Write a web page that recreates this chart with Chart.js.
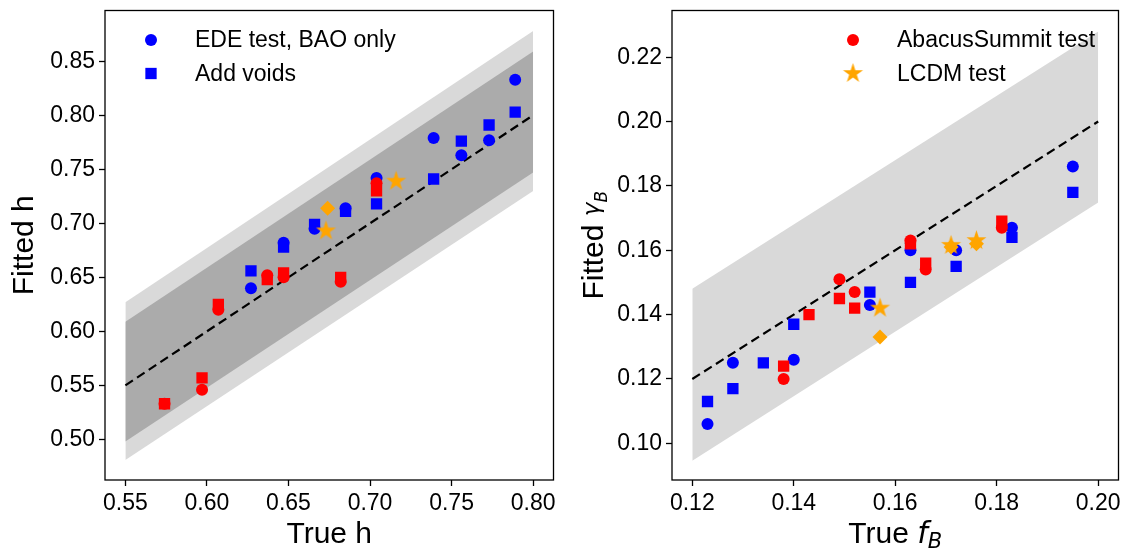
<!DOCTYPE html>
<html>
<head>
<meta charset="utf-8">
<script src="https://cdn.jsdelivr.net/npm/chart.js@4.4.1/dist/chart.umd.min.js"></script>
<style>
  html, body { margin: 0; padding: 0; background: #fff; }
  #wrap { position: relative; width: 1129px; height: 550px; }
  canvas { position: absolute; top: 0; }
</style>
</head>
<body>
<div id="wrap">
  <canvas id="left" width="564" height="550" style="left:0;width:564px;height:550px"></canvas>
  <canvas id="right" width="565" height="550" style="left:564px;width:565px;height:550px"></canvas>
</div>
<script>
// ---- left panel: Hubble parameter ----
const hTicksX = [0.55, 0.60, 0.65, 0.70, 0.75, 0.80];
const hTicksY = [0.50, 0.55, 0.60, 0.65, 0.70, 0.75, 0.80, 0.85];

const edeTrueH = [0.627, 0.647, 0.666, 0.685, 0.704, 0.739, 0.756, 0.773, 0.789];
const edeBaoH  = [0.640, 0.682, 0.695, 0.714, 0.742, 0.779, 0.763, 0.777, 0.833];
const edeVoidH = [0.656, 0.678, 0.699, 0.711, 0.718, 0.741, 0.776, 0.791, 0.803];

const abacusTrueH = [0.574, 0.597, 0.607, 0.637, 0.647, 0.682, 0.704];
const abacusBaoH  = [0.533, 0.546, 0.620, 0.652, 0.650, 0.646, 0.737];
const abacusVoidH = [0.533, 0.557, 0.625, 0.648, 0.654, 0.650, 0.730];

const lcdmStarTrueH = [0.673, 0.716];
const lcdmStarH     = [0.693, 0.739];
const lcdmDiamondTrueH = [0.674];
const lcdmDiamondH     = [0.714];

const hBandX     = [0.55, 0.80];
const hOuterLow  = [0.481, 0.730];
const hOuterHigh = [0.627, 0.878];
const hInnerLow  = [0.498, 0.747];
const hInnerHigh = [0.609, 0.859];
const hDiag      = [0.55, 0.80];

// ---- right panel: baryon fraction ----
const fTicksX = [0.12, 0.14, 0.16, 0.18, 0.20];
const fTicksY = [0.10, 0.12, 0.14, 0.16, 0.18, 0.20, 0.22];

const edeCircTrueF = [0.123, 0.128, 0.140, 0.155, 0.163, 0.172, 0.183, 0.195];
const edeBaoF      = [0.106, 0.125, 0.126, 0.143, 0.160, 0.160, 0.167, 0.186];
const edeSqTrueF   = [0.123, 0.128, 0.134, 0.140, 0.155, 0.163, 0.172, 0.183, 0.195];
const edeVoidF     = [0.113, 0.117, 0.125, 0.137, 0.147, 0.150, 0.155, 0.164, 0.178];

const abacusCircTrueF = [0.138, 0.149, 0.152, 0.163, 0.166, 0.181];
const abacusBaoF      = [0.120, 0.151, 0.147, 0.163, 0.154, 0.167];
const abacusSqTrueF   = [0.138, 0.143, 0.149, 0.152, 0.163, 0.166, 0.181];
const abacusVoidF     = [0.124, 0.140, 0.145, 0.142, 0.162, 0.156, 0.169];

const lcdmStarTrueF    = [0.157, 0.171, 0.176];
const lcdmStarF        = [0.142, 0.1615, 0.163];
const lcdmDiamondTrueF = [0.157, 0.171, 0.176];
const lcdmDiamondF     = [0.133, 0.161, 0.162];

const fBandX    = [0.12, 0.20];
const fBandLow  = [0.0946, 0.1748];
const fBandHigh = [0.148, 0.228];
const fDiag     = [0.12, 0.20];

const BLUE = '#0000ff', RED = '#ff0000', ORANGE = '#ffa500';
const LIGHT = '#d9d9d9', DARK = '#ababab';
const SANS = '"Liberation Sans", Arial, sans-serif';
const MATH = '"DejaVu Sans", sans-serif';

function starImage(r, color) {
  const c = document.createElement('canvas');
  const s = Math.ceil(r * 2 + 2);
  c.width = s; c.height = s;
  const g = c.getContext('2d');
  g.fillStyle = color;
  g.beginPath();
  for (let i = 0; i < 10; i++) {
    const rad = i % 2 ? r * 0.382 : r;
    const ang = -Math.PI / 2 + i * Math.PI / 5;
    g.lineTo(s / 2 + rad * Math.cos(ang), s / 2 + rad * Math.sin(ang));
  }
  g.closePath();
  g.fill();
  return c;
}
const star = starImage(10.5, ORANGE);

const pts = (xs, ys) => xs.map((x, i) => ({ x, y: ys[i] }));

function markers(label, xs, ys, color, style, radius, order) {
  return {
    type: 'scatter', label, data: pts(xs, ys), order,
    pointStyle: style, pointRadius: radius, pointHoverRadius: radius,
    backgroundColor: color, borderColor: color, borderWidth: 0
  };
}
function band(xs, ys, fill, color, order) {
  return {
    type: 'line', data: pts(xs, ys), fill, order,
    backgroundColor: color, borderColor: 'transparent', borderWidth: 0,
    pointRadius: 0, tension: 0
  };
}
function diag(xs, order) {
  return {
    type: 'line', data: pts(xs, xs), fill: false, order,
    borderColor: '#000', borderWidth: 2.2, borderDash: [9, 5], pointRadius: 0
  };
}

function scale(min, max, ticks, fit, isX) {
  return {
    type: 'linear', min, max,
    afterBuildTicks: s => { s.ticks = ticks.map(v => ({ value: v })); },
    afterFit: s => {
      if (isX) s.height = fit; else s.width = fit;
      // frame is fixed by layout padding, not by label overhang
      s.paddingTop = s.paddingBottom = s.paddingLeft = s.paddingRight = 0;
    },
    grid: { drawOnChartArea: false, drawTicks: true, tickLength: 6, tickWidth: 1.3, color: '#000' },
    border: { display: false },
    ticks: {
      color: '#000', font: { family: SANS, size: 23 }, padding: 4,
      maxRotation: 0, autoSkip: false, callback: v => v.toFixed(2)
    }
  };
}

function drawParts(ctx, parts, cx, by) {
  let w = 0;
  parts.forEach(p => { ctx.font = p.font; w += ctx.measureText(p.text).width; });
  let x = cx - w / 2;
  parts.forEach(p => {
    ctx.font = p.font;
    ctx.fillText(p.text, x, by + (p.dy || 0));
    x += ctx.measureText(p.text).width;
  });
}

const decor = {
  id: 'decor',
  afterDraw(chart, args, o) {
    const { ctx, chartArea: a } = chart;
    ctx.save();
    ctx.strokeStyle = '#000';
    ctx.lineWidth = 1.3;
    ctx.strokeRect(a.left, a.top, a.right - a.left, a.bottom - a.top);

    o.legend.forEach((it, i) => {
      const y = o.legendY + i * o.legendGap;
      ctx.fillStyle = it.color;
      Chart.helpers.drawPoint(ctx, { pointStyle: it.style, radius: it.radius, rotation: 0, borderWidth: 0 }, o.markerX, y);
      ctx.fillStyle = '#000';
      ctx.font = '23px ' + SANS;
      ctx.textAlign = 'left';
      ctx.textBaseline = 'middle';
      ctx.fillText(it.label, o.textX, y + 1);
    });

    ctx.fillStyle = '#000';
    ctx.textAlign = 'left';
    ctx.textBaseline = 'alphabetic';
    drawParts(ctx, o.xTitle, (a.left + a.right) / 2, o.xTitleY);
    ctx.translate(o.yTitleX, (a.top + a.bottom) / 2);
    ctx.rotate(-Math.PI / 2);
    drawParts(ctx, o.yTitle, 0, 0);
    ctx.restore();
  }
};

function makeChart(id, datasets, xs, ys, pad, o) {
  return new Chart(document.getElementById(id), {
    type: 'scatter',
    data: { datasets },
    options: {
      responsive: false, animation: false, events: [],
      layout: { padding: pad },
      scales: { x: xs, y: ys },
      plugins: { legend: { display: false }, tooltip: { enabled: false }, decor: o }
    },
    plugins: [decor]
  });
}

makeChart('left', [
  band(hBandX, hOuterLow, false, LIGHT, 20),
  band(hBandX, hOuterHigh, '-1', LIGHT, 19),
  band(hBandX, hInnerLow, false, DARK, 18),
  band(hBandX, hInnerHigh, '-1', DARK, 17),
  diag(hDiag, 16),
  markers('EDE test, BAO only', edeTrueH, edeBaoH, BLUE, 'circle', 6, 6),
  markers('Add voids', edeTrueH, edeVoidH, BLUE, 'rect', 8, 5),
  markers('AbacusSummit test', abacusTrueH, abacusBaoH, RED, 'circle', 6, 4),
  markers('AbacusSummit voids', abacusTrueH, abacusVoidH, RED, 'rect', 8, 3),
  markers('LCDM voids', lcdmDiamondTrueH, lcdmDiamondH, ORANGE, 'rectRot', 7.5, 2),
  markers('LCDM test', lcdmStarTrueH, lcdmStarH, ORANGE, star, 10.5, 1)
],
  scale(0.5375, 0.8125, hTicksX, 70, true),
  scale(0.4624, 0.897, hTicksY, 105, false),
  { top: 9, right: 5, left: 0, bottom: 0 },
  {
    legend: [
      { label: 'EDE test, BAO only', color: BLUE, style: 'circle', radius: 6 },
      { label: 'Add voids', color: BLUE, style: 'rect', radius: 8 }
    ],
    legendY: 40, legendGap: 33.5, markerX: 151, textX: 195,
    xTitle: [{ text: 'True h', font: '30px ' + SANS }], xTitleY: 543,
    yTitle: [{ text: 'Fitted h', font: '30px ' + SANS }], yTitleX: 33
  });

makeChart('right', [
  band(fBandX, fBandLow, false, LIGHT, 20),
  band(fBandX, fBandHigh, '-1', LIGHT, 19),
  diag(fDiag, 16),
  markers('EDE test, BAO only', edeCircTrueF, edeBaoF, BLUE, 'circle', 6, 6),
  markers('Add voids', edeSqTrueF, edeVoidF, BLUE, 'rect', 8, 5),
  markers('AbacusSummit test', abacusCircTrueF, abacusBaoF, RED, 'circle', 6, 4),
  markers('AbacusSummit voids', abacusSqTrueF, abacusVoidF, RED, 'rect', 8, 3),
  markers('LCDM voids', lcdmDiamondTrueF, lcdmDiamondF, ORANGE, 'rectRot', 7.5, 2),
  markers('LCDM test', lcdmStarTrueF, lcdmStarF, ORANGE, star, 10.5, 1)
],
  scale(0.116, 0.204, fTicksX, 70, true),
  scale(0.0886, 0.2345, fTicksY, 108, false),
  { top: 9, right: 3, left: 0, bottom: 0 },
  {
    legend: [
      { label: 'AbacusSummit test', color: RED, style: 'circle', radius: 6 },
      { label: 'LCDM test', color: ORANGE, style: star, radius: 10.5 }
    ],
    legendY: 40, legendGap: 33.5, markerX: 289, textX: 333,
    xTitle: [
      { text: 'True ', font: '30px ' + SANS },
      { text: 'f', font: 'italic 30px ' + MATH },
      { text: 'B', font: 'italic 21px ' + MATH, dy: 5 }
    ], xTitleY: 543,
    yTitle: [
      { text: 'Fitted ', font: '30px ' + SANS },
      { text: 'γ', font: 'italic 23px ' + MATH, dy: -4 },
      { text: 'B', font: 'italic 17px ' + MATH, dy: 4 }
    ], yTitleX: 39
  });
</script>
</body>
</html>
